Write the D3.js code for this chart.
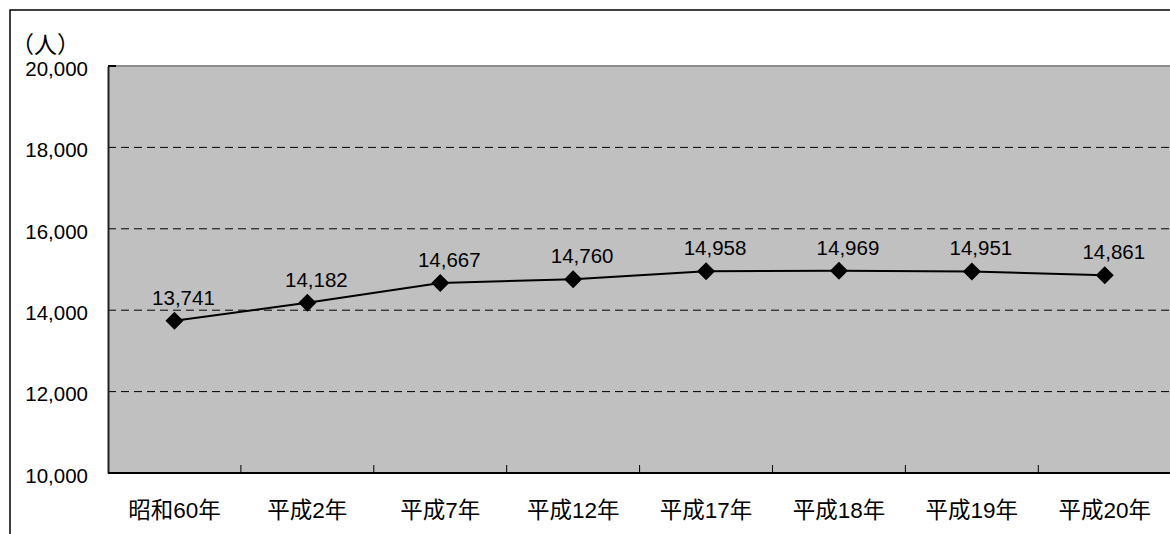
<!DOCTYPE html>
<html>
<head>
<meta charset="utf-8">
<script src="https://cdn.jsdelivr.net/npm/d3@7"></script>
<style>
  html, body { margin: 0; padding: 0; background: #fff; overflow: hidden; }
  svg { display: block; }
  text { font-family: "Liberation Sans", Arial, "Noto Sans CJK JP", sans-serif; fill: #000; }
  .cjk { font-family: "Liberation Sans", "Noto Sans CJK JP", sans-serif; }
</style>
</head>
<body>
<svg id="chart" width="1170" height="534"></svg>
<script>
// Population by year (persons)
const categories = ["昭和60年", "平成2年", "平成7年", "平成12年", "平成17年", "平成18年", "平成19年", "平成20年"];
const population = [13741, 14182, 14667, 14760, 14958, 14969, 14951, 14861];
const yTicks = [10000, 12000, 14000, 16000, 18000, 20000];
const unitLabel = "（人）";

const W = 1170, H = 534;
const svg = d3.select("#chart");
const plot = { left: 108, top: 66, bottom: 473, width: 8 * 132.9 };

const x = d3.scaleBand().domain(categories).range([plot.left, plot.left + plot.width]).padding(0);
const y = d3.scaleLinear().domain([10000, 20000]).range([plot.bottom, plot.top]);
const fmt = d3.format(",");
const plotRight = W; // area runs to the right edge

// outer frame (open at right and bottom)
svg.append("path")
  .attr("d", `M${W},10H10V${H}`)
  .attr("fill", "none").attr("stroke", "#000").attr("stroke-width", 1.5);

// plot background
svg.append("rect")
  .attr("x", plot.left).attr("y", plot.top)
  .attr("width", plotRight - plot.left).attr("height", plot.bottom - plot.top)
  .attr("fill", "#c0c0c0");

// dashed gridlines
svg.append("g").selectAll("line")
  .data(yTicks.filter(d => d > 10000 && d < 20000))
  .join("line")
  .attr("x1", plot.left).attr("x2", plotRight)
  .attr("y1", d => y(d)).attr("y2", d => y(d))
  .attr("stroke", "#000").attr("stroke-width", 1)
  .attr("stroke-dasharray", "8,5");

// top border of plot area
svg.append("line")
  .attr("x1", plot.left).attr("x2", plotRight)
  .attr("y1", y(20000)).attr("y2", y(20000))
  .attr("stroke", "#8c8c8c").attr("stroke-width", 2);
svg.append("line")
  .attr("x1", plot.left).attr("x2", plot.left + 8)
  .attr("y1", y(20000)).attr("y2", y(20000))
  .attr("stroke", "#000").attr("stroke-width", 2);

// y axis
const yAxis = d3.axisLeft(y).tickValues(yTicks).tickFormat(fmt).tickSize(0).tickPadding(20);
const gy = svg.append("g").attr("transform", `translate(${plot.left},0)`).call(yAxis);
gy.select(".domain").attr("stroke", "#222").attr("stroke-width", 2);
gy.selectAll("text").attr("font-size", 20.5).attr("dy", "0.45em")
  .style("font-family", '"Liberation Sans", Arial, sans-serif');

// x axis with inward ticks at band boundaries
const xAxis = d3.axisBottom(x).tickSize(0).tickPadding(29);
const gx = svg.append("g").attr("transform", `translate(0,${plot.bottom})`).call(xAxis);
gx.select(".domain").attr("stroke", "#000").attr("stroke-width", 2)
  .attr("d", `M${plot.left},0H${plotRight}`);
gx.selectAll("text").attr("font-size", 22.5).attr("class", "cjk");
svg.append("g").selectAll("line")
  .data(categories.slice(1))
  .join("line")
  .attr("x1", d => x(d)).attr("x2", d => x(d))
  .attr("y1", plot.bottom).attr("y2", plot.bottom - 8)
  .attr("stroke", "#000").attr("stroke-width", 1);

// unit label
svg.append("text")
  .attr("class", "cjk")
  .attr("x", 11).attr("y", 53)
  .attr("font-size", 23)
  .text(unitLabel);

// line
const cx = d => x(d) + x.bandwidth() / 2;
const line = d3.line().x((d, i) => cx(categories[i])).y(d => y(d));
svg.append("path")
  .datum(population)
  .attr("d", line)
  .attr("fill", "none").attr("stroke", "#000").attr("stroke-width", 2);

// diamond markers
svg.append("g").selectAll("path")
  .data(population)
  .join("path")
  .attr("d", "M0,-9L9,0L0,9L-9,0Z")
  .attr("transform", (d, i) => `translate(${cx(categories[i])},${y(d)})`)
  .attr("fill", "#000");

// value labels
svg.append("g").selectAll("text")
  .data(population)
  .join("text")
  .attr("x", (d, i) => cx(categories[i]) + 9)
  .attr("y", d => y(d) - 16)
  .attr("text-anchor", "middle")
  .attr("font-size", 20.5)
  .text(d => fmt(d));
</script>
</body>
</html>
